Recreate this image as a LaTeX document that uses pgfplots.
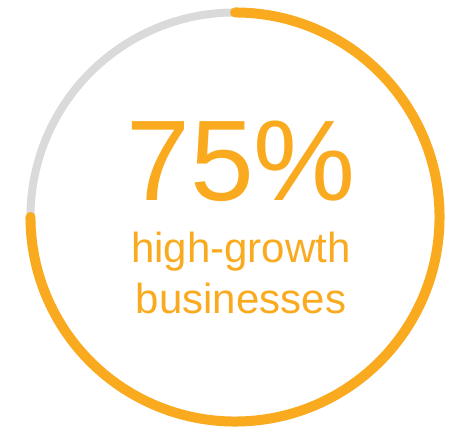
\documentclass[border=0pt]{standalone}
\usepackage{pgfplots}
\pgfplotsset{compat=1.18}
\usepackage{pgfplotstable}
\usepackage{fontspec}
\setmainfont{Liberation Sans}

\definecolor{ringorange}{RGB}{250,170,30}
\definecolor{ringgray}{RGB}{218,218,218}

% share of high-growth businesses, in percent
\pgfplotstableread{
share
75
}\sharetable

\begin{document}
\begin{tikzpicture}
\pgfplotstablegetelem{0}{share}\of\sharetable
\let\share\pgfplotsretval
\begin{axis}[
	hide axis,
	clip=false,
	x=153.4pt, y=153.4pt,
	xmin=-1.1490, xmax=1.0463,
	ymin=-1.0414, ymax=1.0610,
	]
	\path (rel axis cs:0,0) rectangle (rel axis cs:1,1);
	% track
	\draw[ringgray, line width=6pt] (axis cs:0,0) circle[radius=1];
	% filled share, clockwise from the top
	\draw[ringorange, line width=7.5pt, line cap=round]
		(axis cs:0,1) arc[start angle=90, delta angle={-3.6*\share}, radius=153.4pt];
	\node[anchor=base, text=ringorange, font=\fontsize{86}{86}\selectfont, inner sep=0pt]
		at (axis cs:0.0293,0.0831) {\share\%};
	\node[anchor=base, text=ringorange, font=\fontsize{31.5}{31.5}\selectfont, inner sep=0pt]
		at (axis cs:0.0293,-0.2249) {high-growth};
	\node[anchor=base, text=ringorange, font=\fontsize{31.5}{31.5}\selectfont, inner sep=0pt]
		at (axis cs:0.0293,-0.4694) {businesses};
\end{axis}
\end{tikzpicture}
\end{document}
